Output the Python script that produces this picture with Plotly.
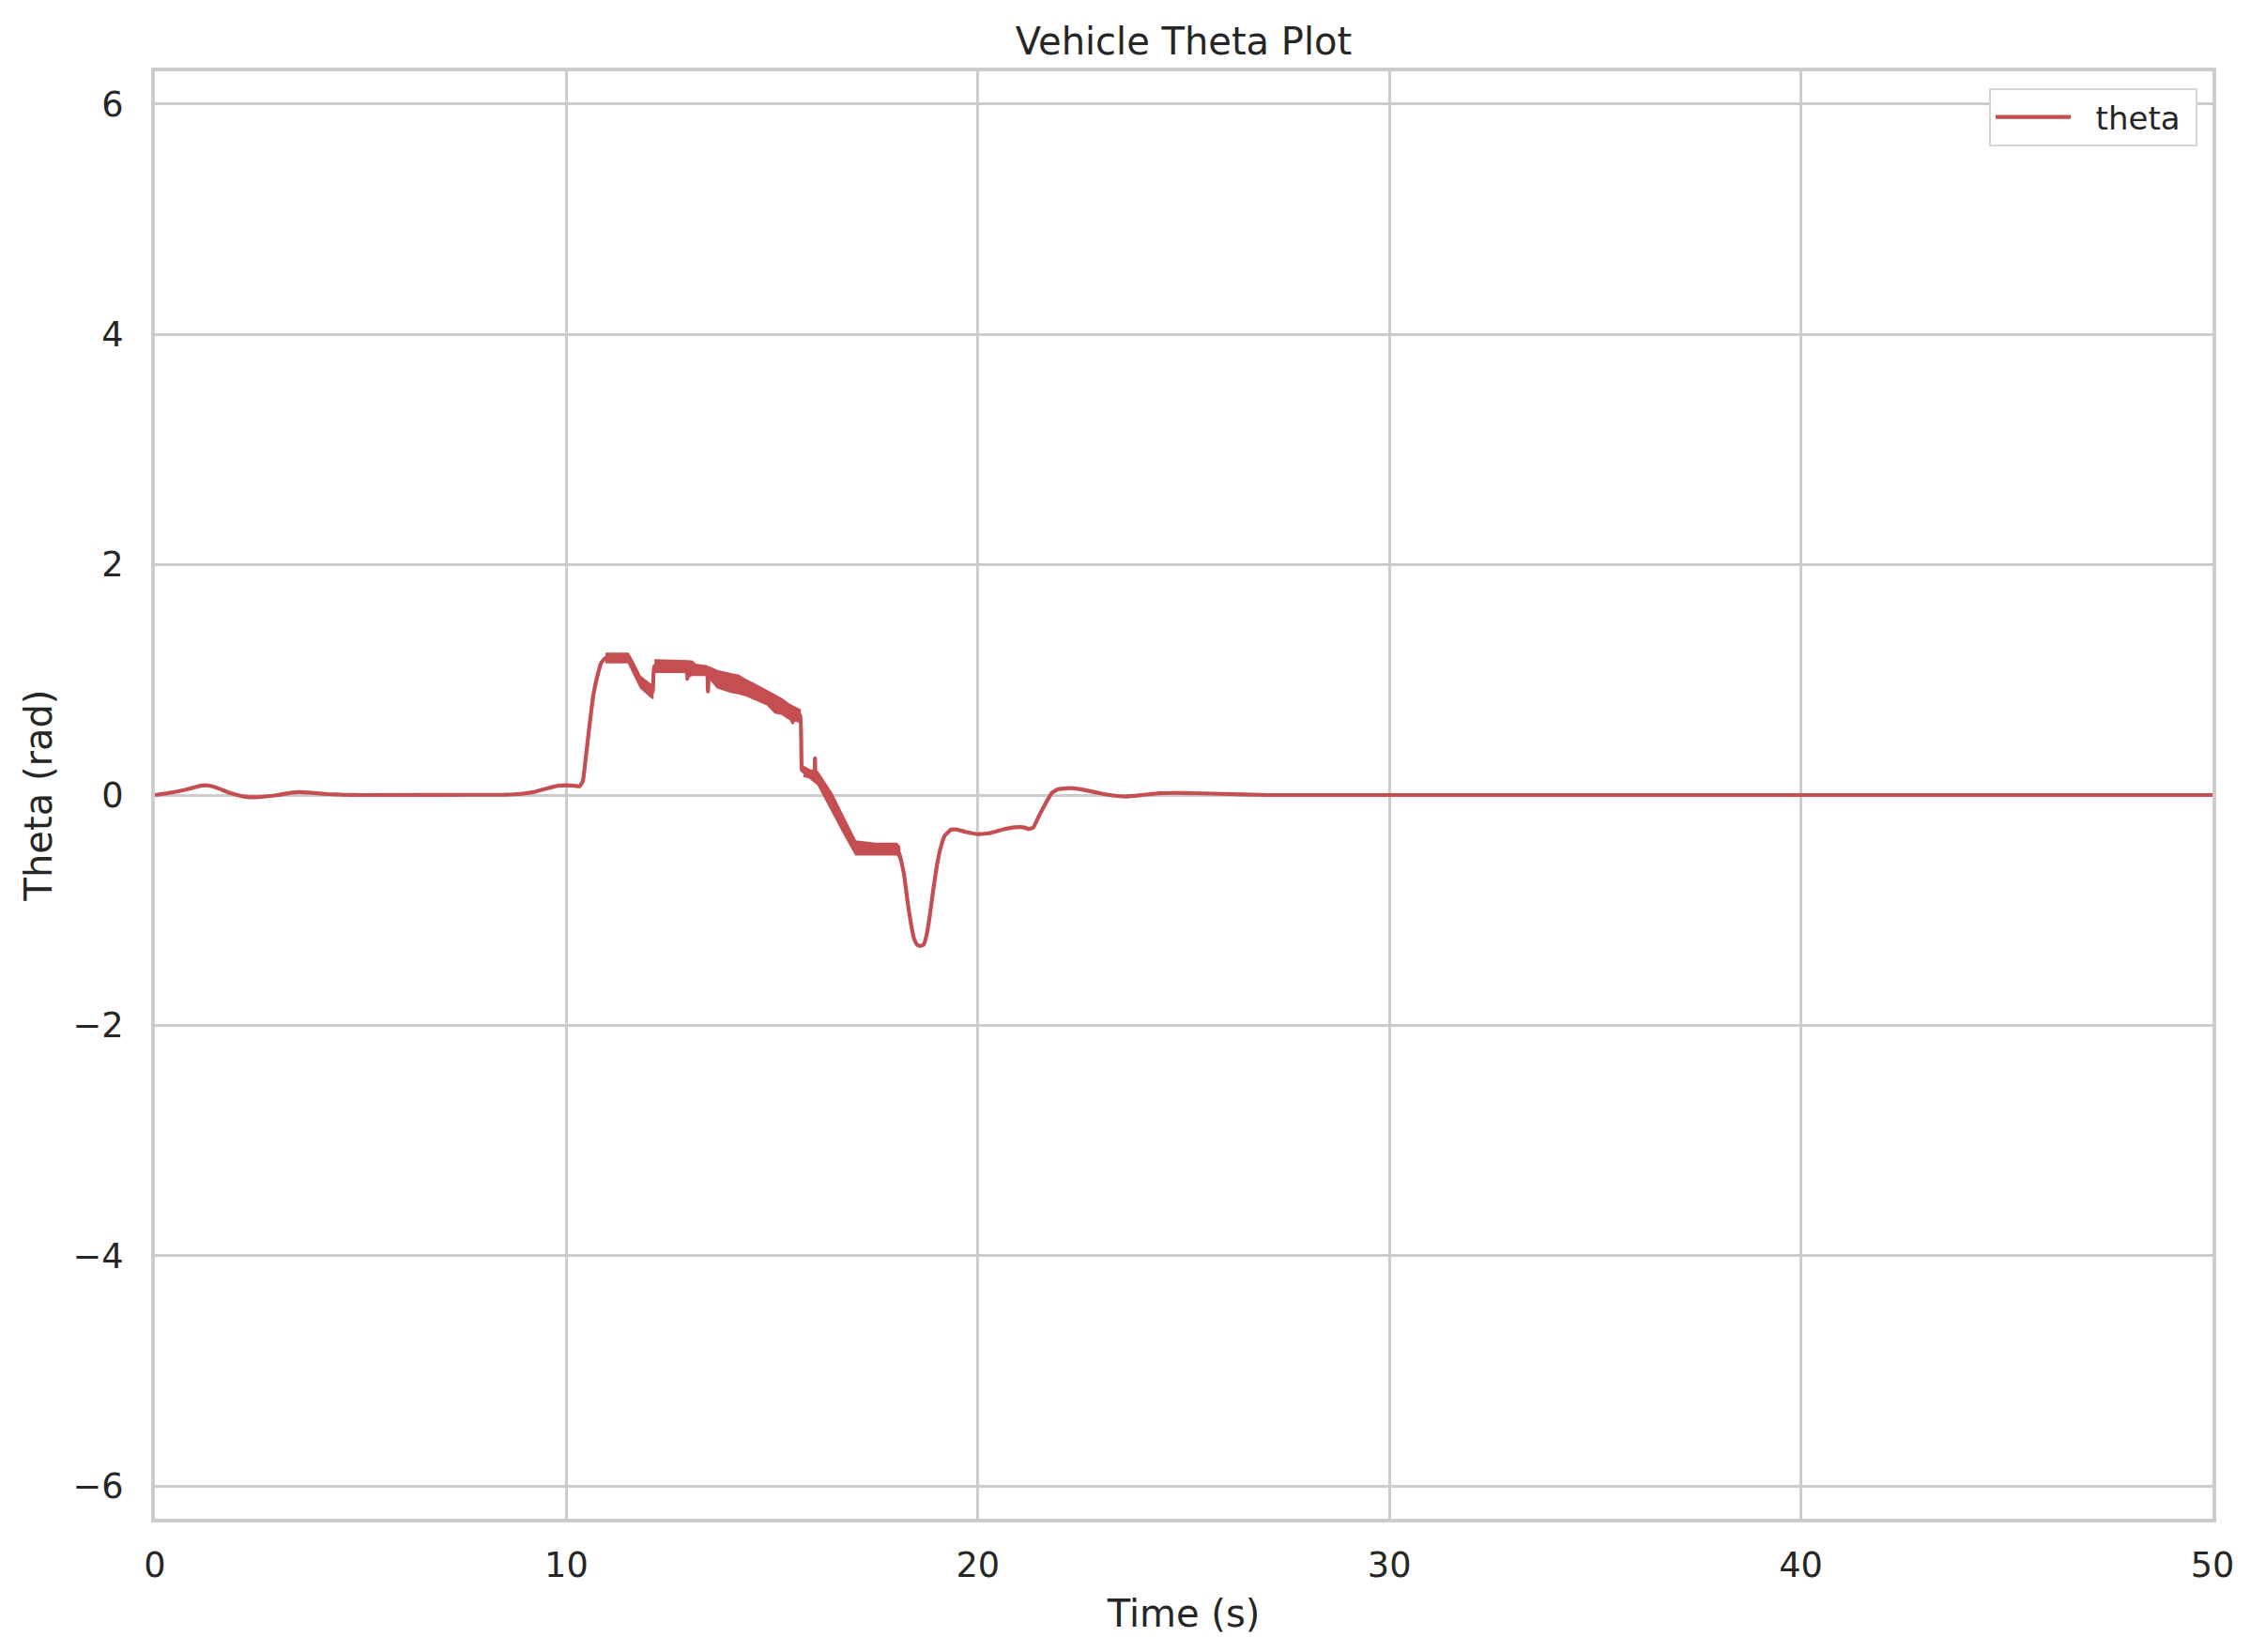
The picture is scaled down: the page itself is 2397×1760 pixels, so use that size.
import plotly.graph_objects as go

# theta trace (centre of the line)
time = [0, 0.3, 0.6, 0.9, 1.1, 1.25, 1.4, 1.6, 1.8, 2.0, 2.2, 2.4, 2.7, 3.0, 3.3, 3.5, 3.8,
        4.2, 4.6, 5.0, 8.5, 8.9, 9.2, 9.5, 9.8, 10.0, 10.2, 10.32, 10.4, 10.48, 10.57,
        10.66, 10.75, 10.85, 10.95, 11.5, 11.57, 11.8, 12.05, 12.1,
        12.14, 12.93, 12.94, 12.96, 13.06, 13.41, 13.44, 13.47, 13.67, 14.02, 14.37, 14.89,
        15.07, 15.41, 15.5, 15.52, 15.68, 15.72, 15.76, 16.02, 16.04, 16.06, 16.11, 16.46,
        16.72, 17.03, 18.03, 18.1, 18.2, 18.3, 18.38, 18.45, 18.52, 18.6, 18.68, 18.75,
        18.83, 18.9, 19.0, 19.1, 19.2, 19.35, 19.5, 19.7, 20.0, 20.3, 20.6, 20.9, 21.1,
        21.25, 21.35, 21.5, 21.65, 21.8, 21.95, 22.2, 22.5, 22.9, 23.2, 23.6, 24.0, 24.4,
        25.0, 25.9, 27, 50]
theta = [0, 0.015, 0.035, 0.06, 0.08, 0.085, 0.075, 0.05, 0.02, 0.0, -0.015, -0.02, -0.012,
         0.0, 0.02, 0.025, 0.02, 0.008, 0.002, 0, 0.003, 0.01, 0.025, 0.055, 0.08, 0.085,
         0.08, 0.075, 0.12, 0.35, 0.63, 0.88, 1.03, 1.15, 1.19, 1.19, 1.14, 0.98, 0.905,
         0.895, 1.12, 1.12, 1.01, 1.12, 1.10, 1.08, 0.90, 1.06, 1.0, 0.97, 0.93, 0.84,
         0.79, 0.72, 0.63, 0.71, 0.69, 0.22, 0.205, 0.17, 0.32, 0.16, 0.145, -0.07,
         -0.25, -0.46, -0.47, -0.52, -0.68, -0.95, -1.13, -1.25, -1.30, -1.31, -1.30, -1.22,
         -1.05, -0.86, -0.62, -0.45, -0.35, -0.30, -0.30, -0.32, -0.34, -0.33, -0.30, -0.28,
         -0.28, -0.295, -0.28, -0.17, -0.07, 0.02, 0.05, 0.06, 0.05, 0.02, 0.0, -0.013, 0.0,
         0.015, 0.018, 0.01, 0, 0]

# where the signal chatters the line looks like a thick band: its upper / lower edges
band_a_t = [10.95, 11.2, 11.5, 11.57, 11.8, 12.05, 12.1]
band_a_hi = [1.23, 1.23, 1.23, 1.19, 1.03, 0.96, 0.95]
band_a_lo = [1.15, 1.15, 1.15, 1.09, 0.93, 0.85, 0.84]

band_b_t = [12.14, 12.88, 12.95, 13.06, 13.14, 13.41, 13.67, 14.02, 14.19, 14.37, 14.54,
            14.89, 15.07, 15.24, 15.41, 15.68]
band_b_hi = [1.174, 1.17, 1.165, 1.161, 1.134, 1.12, 1.08, 1.052, 1.04, 1.0, 0.971, 0.903,
             0.87, 0.835, 0.79, 0.74]
band_b_lo = [1.066, 1.066, 1.02, 1.04, 1.04, 1.04, 0.93, 0.89, 0.88, 0.862, 0.84, 0.781,
             0.713, 0.70, 0.659, 0.632]

band_c_t = [15.76, 15.9, 16.11, 16.46, 16.72, 17.03, 17.5, 18.03, 18.1]
band_c_hi = [0.25, 0.22, 0.20, 0.01, -0.18, -0.40, -0.42, -0.42, -0.45]
band_c_lo = [0.16, 0.15, 0.09, -0.15, -0.32, -0.52, -0.52, -0.52, -0.55]

x_ticks = [0, 10, 20, 30, 40, 50]
y_ticks = [-6, -4, -2, 0, 2, 4, 6]
y_labels = ["\u22126", "\u22124", "\u22122", "0", "2", "4", "6"]

RED = "#C44E52"
GRID = "#cccccc"
TXT = "#262626"
FONT = "DejaVu Sans"

bx, by = [], []
for t, hi, lo in [(band_a_t, band_a_hi, band_a_lo),
                  (band_b_t, band_b_hi, band_b_lo),
                  (band_c_t, band_c_hi, band_c_lo)]:
    bx += t + t[::-1] + [None]
    by += hi + lo[::-1] + [None]

fig = go.Figure()
fig.add_trace(go.Scatter(x=bx, y=by, mode="lines", fill="toself", fillcolor=RED,
                         line=dict(color=RED, width=1.5), showlegend=False, hoverinfo="skip"))
# nbsp padding gives the legend entry the roomier spacing of the original
fig.add_trace(go.Scatter(x=time, y=theta, mode="lines", name="\u00a0\u00a0theta\u00a0",
                         line=dict(color=RED, width=4.2, shape="spline", smoothing=0.3)))

# page body adds 8px, margins are set so the axes box lands where the reference has it
fig.update_layout(
    width=2397, height=1760,
    margin=dict(l=157, r=48, t=68, b=150),
    paper_bgcolor="white", plot_bgcolor="white",
    font=dict(family=FONT, color=TXT, size=36),
    title=dict(text="Vehicle Theta Plot", x=0.5, xref="paper", xanchor="center",
               y=1, yref="paper", yanchor="bottom", pad=dict(b=18),
               font=dict(size=40, color=TXT, family=FONT)),
    legend=dict(x=0.9927, y=0.9883, xanchor="right", yanchor="top",
                bgcolor="white", bordercolor="#d6d6d6", borderwidth=2,
                itemwidth=80, font=dict(size=34, color=TXT, family=FONT)),
)
fig.update_xaxes(range=[0, 50], tickvals=x_ticks, ticktext=[str(v) for v in x_ticks],
                 showgrid=True, gridcolor=GRID, gridwidth=2.7, zeroline=False,
                 showline=True, mirror=True, linecolor=GRID, linewidth=4,
                 ticks="outside", ticklen=14, tickcolor="rgba(0,0,0,0)",
                 tickfont=dict(size=36.7, color=TXT, family=FONT),
                 title=dict(text="Time (s)", standoff=18,
                            font=dict(size=40, color=TXT, family=FONT)))
fig.update_yaxes(range=[-6.2832, 6.2832], tickvals=y_ticks, ticktext=y_labels,
                 showgrid=True, gridcolor=GRID, gridwidth=2.7, zeroline=False,
                 showline=True, mirror=True, linecolor=GRID, linewidth=4,
                 ticks="outside", ticklen=22, tickcolor="rgba(0,0,0,0)",
                 tickfont=dict(size=36.7, color=TXT, family=FONT),
                 title=dict(text="Theta (rad)", standoff=11,
                            font=dict(size=40, color=TXT, family=FONT)))

fig.write_html("out.html")
